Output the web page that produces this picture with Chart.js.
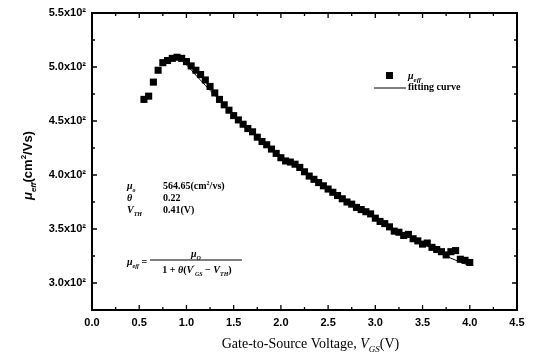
<!DOCTYPE html>
<html>
<head>
<meta charset="utf-8">
<script src="https://cdn.jsdelivr.net/npm/chart.js@4.4.0/dist/chart.umd.min.js"></script>
<style>
  html, body { margin: 0; padding: 0; background: #fff; }
  #wrap { width: 533px; height: 357px; }
</style>
</head>
<body>
<div id="wrap"><canvas id="myChart"></canvas></div>
<script>
// measured points (V_GS, mu_eff)
const vgs = [0.55, 0.60, 0.65, 0.70, 0.75, 0.80, 0.85, 0.90, 0.95, 1.00,
    1.05, 1.10, 1.15, 1.20, 1.25, 1.30, 1.35, 1.40, 1.45, 1.50,
    1.55, 1.60, 1.65, 1.70, 1.75, 1.80, 1.85, 1.90, 1.95, 2.00,
    2.05, 2.10, 2.15, 2.20, 2.25, 2.30, 2.35, 2.40, 2.45, 2.50,
    2.55, 2.60, 2.65, 2.70, 2.75, 2.80, 2.85, 2.90, 2.95, 3.00,
    3.05, 3.10, 3.15, 3.20, 3.25, 3.30, 3.35, 3.40, 3.45, 3.50,
    3.55, 3.60, 3.65, 3.70, 3.75, 3.80, 3.85, 3.90, 3.95, 4.00];
const mobility = [470, 473, 486, 497, 504, 506, 508, 509, 508, 505,
    501, 497, 493, 488, 482, 476, 470, 465, 460, 455,
    451, 447, 443, 440, 435, 431, 428, 424, 420, 416,
    413, 412, 410, 407, 403, 399, 396, 393, 390, 387,
    384, 381, 378, 375, 373, 370, 368, 366, 364, 360,
    357, 355, 352, 348, 347, 344, 345, 341, 339, 336,
    337, 333, 331, 329, 326, 329, 330, 322, 321, 319];

// fitting curve
const fitV = [1.0, 1.2, 1.4, 1.6, 1.8, 2.0, 2.2, 2.4, 2.6, 2.8, 3.0, 3.2, 3.4, 3.6, 3.8, 4.0];
const fitMu = [502, 483, 465, 448, 432, 418, 405, 393, 381, 370, 360, 350, 341, 332, 323, 316];

const xTickVals = [0, 0.5, 1, 1.5, 2, 2.5, 3, 3.5, 4, 4.5];
const yTickVals = [300, 350, 400, 450, 500, 550];

const sansFam = '"Liberation Sans", Arial, sans-serif';
const serif = '"Liberation Serif", "Times New Roman", serif';

// draw a run of text pieces: {t, font, dy}
function drawRich(ctx, x, y, parts, align) {
    let w = 0;
    parts.forEach(function (p) { ctx.font = p.font; w += ctx.measureText(p.t).width; });
    let cx = align === 'center' ? x - w / 2 : x;
    parts.forEach(function (p) {
        ctx.font = p.font;
        ctx.fillText(p.t, cx, y + (p.dy || 0));
        cx += ctx.measureText(p.t).width;
    });
    return w;
}

const framePlugin = {
    id: 'frame',
    afterDraw: function (chart) {
        const ctx = chart.ctx;
        const a = chart.chartArea;
        const xs = chart.scales.x, ys = chart.scales.y;
        ctx.save();
        ctx.strokeStyle = '#000';
        ctx.fillStyle = '#000';
        ctx.lineWidth = 2;
        ctx.strokeRect(a.left, a.top, a.right - a.left, a.bottom - a.top);

        ctx.lineWidth = 1.3;
        ctx.beginPath();
        for (let v = 0.25; v < 4.5; v += 0.25) {
            const px = xs.getPixelForValue(v);
            const len = (Math.round(v * 4) % 2 === 0) ? 5 : 3;
            ctx.moveTo(px, a.bottom); ctx.lineTo(px, a.bottom - len);
            ctx.moveTo(px, a.top); ctx.lineTo(px, a.top + len);
        }
        for (let v = 300; v < 550; v += 25) {
            const py = ys.getPixelForValue(v);
            const len = (v % 50 === 0) ? 5 : 3;
            ctx.moveTo(a.left, py); ctx.lineTo(a.left + len, py);
            ctx.moveTo(a.right, py); ctx.lineTo(a.right - len, py);
        }
        ctx.stroke();

        // x axis title
        ctx.textBaseline = 'alphabetic';
        drawRich(ctx, (a.left + a.right) / 2 + 6, 348, [
            { t: 'Gate-to-Source Voltage, ', font: '14px ' + serif },
            { t: 'V', font: 'italic 14px ' + serif },
            { t: 'GS', font: 'italic 9px ' + serif, dy: 4 },
            { t: '(V)', font: '14px ' + serif }
        ], 'center');

        // y axis title
        ctx.save();
        ctx.translate(32, (a.top + a.bottom) / 2 + 4);
        ctx.rotate(-Math.PI / 2);
        drawRich(ctx, 0, 0, [
            { t: 'μ', font: 'italic bold 13px ' + sansFam },
            { t: 'eff', font: 'italic bold 8px ' + sansFam, dy: 4 },
            { t: '(cm', font: 'bold 13px ' + sansFam },
            { t: '2', font: 'bold 8px ' + sansFam, dy: -6 },
            { t: '/Vs)', font: 'bold 13px ' + sansFam }
        ], 'center');
        ctx.restore();

        // legend
        ctx.fillRect(386, 72, 7, 7);
        drawRich(ctx, 408, 79, [
            { t: 'μ', font: 'italic bold 10px ' + serif },
            { t: 'eff', font: 'italic bold 7px ' + serif, dy: 3 }
        ]);
        ctx.lineWidth = 1;
        ctx.beginPath();
        ctx.moveTo(374, 88); ctx.lineTo(406, 88);
        ctx.stroke();
        drawRich(ctx, 408, 90, [{ t: 'fitting curve', font: 'bold 10px ' + serif }]);

        // parameters
        const b10 = 'bold 10px ' + serif, i10 = 'italic bold 10px ' + serif, i6 = 'italic bold 6px ' + serif;
        drawRich(ctx, 127, 189, [{ t: 'μ', font: i10 }, { t: 'o', font: i6, dy: 3 }]);
        drawRich(ctx, 163, 189, [{ t: '564.65(cm', font: b10 }, { t: '2', font: 'bold 6px ' + serif, dy: -4 }, { t: '/vs)', font: b10 }]);
        drawRich(ctx, 127, 201, [{ t: 'θ', font: i10 }]);
        drawRich(ctx, 163, 201, [{ t: '0.22', font: b10 }]);
        drawRich(ctx, 127, 213, [{ t: 'V', font: i10 }, { t: 'TH', font: i6, dy: 3 }]);
        drawRich(ctx, 163, 213, [{ t: '0.41(V)', font: b10 }]);

        // formula
        drawRich(ctx, 127, 265, [{ t: 'μ', font: i10 }, { t: 'eff', font: i6, dy: 3 }, { t: ' =', font: b10 }]);
        drawRich(ctx, 196, 257, [{ t: 'μ', font: i10 }, { t: 'O', font: i6, dy: 3 }], 'center');
        ctx.beginPath();
        ctx.moveTo(150, 260); ctx.lineTo(242, 260);
        ctx.stroke();
        drawRich(ctx, 197, 273, [
            { t: '1 + ', font: b10 }, { t: 'θ', font: i10 }, { t: '(', font: b10 },
            { t: 'V', font: i10 }, { t: '′', font: 'bold 6px ' + serif, dy: -4 }, { t: 'GS', font: i6, dy: 3 },
            { t: ' − ', font: b10 }, { t: 'V', font: i10 }, { t: 'TH', font: i6, dy: 3 }, { t: ')', font: b10 }
        ], 'center');
        ctx.restore();
    }
};

const ctx = document.getElementById('myChart').getContext('2d');

new Chart(ctx, {
    type: 'scatter',
    data: {
        datasets: [
            {
                label: 'fitting curve',
                data: fitV.map(function (v, i) { return { x: v, y: fitMu[i] }; }),
                showLine: true,
                borderColor: '#000',
                borderWidth: 1,
                pointRadius: 0,
                tension: 0.4,
                order: 2,
            },
            {
                label: 'μeff',
                data: vgs.map(function (v, i) { return { x: v, y: mobility[i] }; }),
                pointStyle: 'rect',
                pointRadius: 5,
                backgroundColor: '#000',
                borderColor: '#000',
                borderWidth: 0,
                order: 1,
            },
        ],
    },
    options: {
        responsive: true,
        maintainAspectRatio: false,
        animation: false,
        layout: { padding: { top: 13, right: 16, left: 0, bottom: 0 } },
        plugins: {
            legend: { display: false },
            tooltip: { enabled: false },
        },
        scales: {
            x: {
                type: 'linear',
                min: 0,
                max: 4.5,
                grid: { display: false, drawTicks: false },
                border: { display: false },
                afterBuildTicks: function (scale) {
                    scale.ticks = xTickVals.map(function (v) { return { value: v }; });
                },
                afterFit: function (scale) { scale.height = 47; },
                ticks: {
                    color: '#000',
                    font: { family: sansFam, size: 11, weight: 'bold' },
                    padding: 6,
                    maxRotation: 0,
                    callback: function (v) { return Number(v).toFixed(1); },
                },
            },
            y: {
                type: 'linear',
                min: 275,
                max: 550,
                grid: { display: false, drawTicks: false },
                border: { display: false },
                afterBuildTicks: function (scale) {
                    scale.ticks = yTickVals.map(function (v) { return { value: v }; });
                },
                afterFit: function (scale) { scale.width = 92; },
                ticks: {
                    color: '#000',
                    font: { family: sansFam, size: 11, weight: 'bold' },
                    padding: 6,
                    callback: function (v) { return (v / 100).toFixed(1) + 'x10²'; },
                },
            },
        },
    },
    plugins: [framePlugin],
});
</script>
</body>
</html>
